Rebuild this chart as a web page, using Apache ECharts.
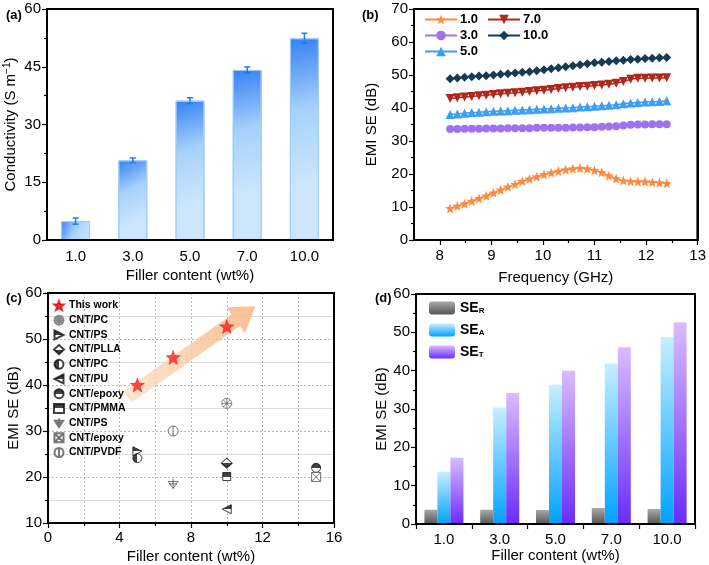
<!DOCTYPE html>
<html><head><meta charset="utf-8">
<script src="https://cdn.jsdelivr.net/npm/echarts@6/dist/echarts.min.js"></script>
<style>html,body{margin:0;padding:0;background:#fff}#c{width:709px;height:565px}</style>
</head><body><div id="c"></div>
<script>
// ---------- DATA ----------
const fillerCats = ['1.0', '3.0', '5.0', '7.0', '10.0'];
const conductivity = [4.9, 20.7, 36.2, 44.2, 52.4];
const conductivityErr = [0.8, 0.6, 0.75, 0.75, 1.3];

const freq = [8.20, 8.34, 8.48, 8.62, 8.76, 8.90, 9.04, 9.18, 9.32, 9.46, 9.60, 9.74, 9.88, 10.02, 10.16, 10.30,
  10.44, 10.58, 10.72, 10.86, 11.00, 11.14, 11.28, 11.42, 11.56, 11.70, 11.84, 11.98, 12.12, 12.26, 12.40];
const se10 = [9.6, 10.3, 11.0, 11.8, 12.6, 13.4, 14.3, 15.2, 16.1, 16.9, 17.8, 18.5, 19.2, 19.9, 20.4, 20.9,
  21.3, 21.6, 21.8, 21.6, 21.1, 20.5, 19.5, 18.6, 18.0, 17.8, 17.7, 17.7, 17.5, 17.4, 17.2];
const se30 = [33.6, 33.6, 33.7, 33.7, 33.7, 33.8, 33.8, 33.8, 33.9, 33.9, 33.9, 33.9, 34.0, 34.0, 34.0, 34.0,
  34.0, 34.1, 34.1, 34.2, 34.2, 34.3, 34.4, 34.5, 34.7, 34.9, 35.0, 35.0, 35.1, 35.1, 35.1];
const se50 = [38.0, 38.2, 38.4, 38.6, 38.7, 38.9, 39.0, 39.1, 39.2, 39.3, 39.4, 39.5, 39.6, 39.7, 39.8, 39.9,
  40.0, 40.1, 40.3, 40.4, 40.5, 40.7, 40.8, 41.0, 41.3, 41.5, 41.7, 41.8, 41.9, 42.0, 42.2];
const se70 = [42.9, 43.1, 43.3, 43.5, 43.7, 43.9, 44.1, 44.3, 44.5, 44.6, 44.8, 45.0, 45.2, 45.4, 45.6, 45.9,
  46.1, 46.3, 46.5, 46.6, 46.8, 47.0, 47.2, 47.5, 48.0, 48.7, 49.0, 49.0, 49.1, 49.1, 49.2];
const se100 = [48.9, 49.1, 49.3, 49.5, 49.7, 49.8, 50.0, 50.2, 50.4, 50.6, 50.8, 51.0, 51.3, 51.6, 51.9, 52.2,
  52.5, 52.8, 53.1, 53.4, 53.7, 53.9, 54.1, 54.3, 54.5, 54.7, 54.8, 55.0, 55.1, 55.2, 55.3];

const thisWork = [[5, 40], [7, 46], [10, 52.7]];
const cntPC1 = [[10, 36]];
const cntPS1 = [[5, 25.6]];
const cntPLLA = [[10, 23]];
const cntPC2 = [[5, 24.1]];
const cntPU = [[10, 13]];
const cntEpoxy1 = [[15, 22]];
const cntPMMA = [[10, 20.1]];
const cntPS2 = [[7, 18.5]];
const cntEpoxy2 = [[15, 20]];
const cntPVDF = [[7, 30]];
const trendArrow = [[4.45, 37.4, 11.6, 57.1]];

const seR = [3.7, 3.7, 3.65, 4.2, 3.9];
const seA = [13.6, 30.4, 36.3, 41.9, 48.8];
const seT = [17.3, 34.2, 40.0, 46.1, 52.6];

// ---------- STYLE HELPERS ----------
const FONT = 'Liberation Sans, Arial, sans-serif';
const G = echarts.graphic;
function starPath(inner) {
  let s = 'path://';
  for (let i = 0; i < 10; i++) {
    const r = i % 2 ? inner : 10;
    const a = -Math.PI / 2 + i * Math.PI / 5;
    s += (i ? 'L' : 'M') + (10 + r * Math.cos(a)).toFixed(2) + ',' + (10 + r * Math.sin(a)).toFixed(2);
  }
  return s + 'Z';
}
const STAR = starPath(4.2);
function half(dirX, firstBlack) {
  const b = '#111', w = '#fff';
  const c1 = firstBlack ? b : w, c2 = firstBlack ? w : b;
  return new G.LinearGradient(0, 0, dirX ? 1 : 0, dirX ? 0 : 1, [
    {offset: 0, color: c1}, {offset: 0.5, color: c1}, {offset: 0.5, color: c2}, {offset: 1, color: c2}]);
}
const CIRC = 'M10,0A10,10,0,1,1,10,20A10,10,0,1,1,10,0Z';
const TRI_R = 'path://M0,0L20,10L0,20Z';
const TRI_L = 'path://M20,0L0,10L20,20Z';

const axisLineS = {show: true, onZero: false, lineStyle: {color: '#000', width: 1.5}};
const labelS = {color: '#000', fontSize: 15, fontFamily: FONT, fontWeight: 'normal'};
const nameS = {color: '#000', fontSize: 15, fontFamily: FONT, fontWeight: 'normal'};
const tickS = {show: true, length: 5, lineStyle: {color: '#000', width: 1.2}};
const minorS = {show: true, splitNumber: 2, length: 3, lineStyle: {color: '#000', width: 1.2}};

function gridBox(left, top, width, height) {
  return {left, top, width, height, show: true, borderColor: '#000', borderWidth: 1.5, backgroundColor: 'rgba(0,0,0,0)'};
}
function frameX(gi) {
  return {gridIndex: gi, type: 'value', position: 'top', min: 0, max: 1, axisLine: axisLineS,
    axisTick: {show: false}, axisLabel: {show: false}, splitLine: {show: false}};
}
function frameY(gi) {
  return {gridIndex: gi, type: 'value', position: 'right', min: 0, max: 1, axisLine: axisLineS,
    axisTick: {show: false}, axisLabel: {show: false}, splitLine: {show: false}};
}
// plot-area frame drawn from the coordinate system's own rectangle
function frameSeries(xi, yi, pt) {
  return {type: 'custom', xAxisIndex: xi, yAxisIndex: yi, z: 10, silent: true, data: [pt],
    renderItem: function (params) {
      const r = params.coordSys;
      return {type: 'rect', shape: {x: r.x, y: r.y, width: r.width, height: r.height},
        style: {fill: 'none', stroke: '#000', lineWidth: 2}};
    }};
}
const boldTitle = {fontSize: 13, fontWeight: 'bold', color: '#000'};

const option = {
  animation: false,
  textStyle: {fontFamily: FONT},
  title: [
    {text: '(a)', left: 1, top: 4, textStyle: boldTitle},
    {text: '(b)', left: 357, top: 4, textStyle: boldTitle},
    {text: '(c)', left: 1, top: 287, textStyle: boldTitle},
    {text: '(d)', left: 370, top: 287, textStyle: boldTitle}
  ],
  grid: [
    gridBox(47, 9, 286, 231),
    gridBox(414, 9, 288, 231),
    gridBox(48, 293, 286, 231),
    gridBox(416, 294, 279, 230)
  ],
  xAxis: [
    {gridIndex: 0, type: 'category', position: 'bottom', data: fillerCats, axisLine: axisLineS, axisTick: {show: false},
      axisLabel: Object.assign({margin: 9}, labelS), name: 'Filler content (wt%)', nameLocation: 'middle',
      nameGap: 28, nameTextStyle: nameS},
    {gridIndex: 1, type: 'value', position: 'bottom', min: 7.5, max: 13, interval: 0.5, axisLine: axisLineS,
      axisTick: Object.assign({customValues: [8, 9, 10, 11, 12, 13]}, tickS),
      axisLabel: Object.assign({margin: 8, customValues: [8, 9, 10, 11, 12, 13]}, labelS),
      splitLine: {show: false}, name: 'Frequency (GHz)', nameLocation: 'middle', nameGap: 30, nameTextStyle: nameS},
    {gridIndex: 1, type: 'value', position: 'bottom', min: 7.5, max: 13, interval: 0.5, axisLine: {show: false, onZero: false},
      axisTick: {show: true, length: 3, customValues: [8.5, 9.5, 10.5, 11.5, 12.5], lineStyle: {color: '#000', width: 1.2}},
      axisLabel: {show: false}, splitLine: {show: false}},
    {gridIndex: 2, type: 'value', position: 'bottom', min: 0, max: 16, interval: 4, axisLine: axisLineS, axisTick: tickS,
      minorTick: minorS, axisLabel: Object.assign({margin: 7}, labelS),
      splitLine: {show: true, lineStyle: {color: '#b8b8b8', type: [2, 2], width: 1}},
      minorSplitLine: {show: true, lineStyle: {color: '#b8b8b8', type: [2, 2], width: 1}},
      name: 'Filler content (wt%)', nameLocation: 'middle', nameGap: 26, nameTextStyle: nameS},
    {gridIndex: 3, type: 'category', position: 'bottom', data: fillerCats, axisLine: axisLineS, axisTick: tickS,
      axisLabel: Object.assign({margin: 8}, labelS), name: 'Filler content (wt%)', nameLocation: 'middle',
      nameGap: 24, nameTextStyle: nameS},
    frameX(0), frameX(1), frameX(2), frameX(3)
  ],
  yAxis: [
    {gridIndex: 0, type: 'value', position: 'left', min: 0, max: 60, interval: 15, axisLine: axisLineS, axisTick: tickS,
      minorTick: minorS, axisLabel: Object.assign({margin: 6}, labelS), splitLine: {show: false},
      name: 'Conductivity (S m{sup|−1})', nameLocation: 'middle', nameGap: 27,
      nameTextStyle: Object.assign({rich: {sup: {fontSize: 10, verticalAlign: 'top', padding: [0, 0, 8, 0], color: '#000'}}}, nameS)},
    {gridIndex: 1, type: 'value', position: 'left', min: 0, max: 70, interval: 10, axisLine: axisLineS, axisTick: tickS,
      minorTick: minorS, axisLabel: Object.assign({margin: 6}, labelS), splitLine: {show: false},
      name: 'EMI SE (dB)', nameLocation: 'middle', nameGap: 35, nameTextStyle: nameS},
    {gridIndex: 2, type: 'value', position: 'left', min: 10, max: 60, interval: 10, axisLine: axisLineS, axisTick: tickS,
      minorTick: minorS, axisLabel: Object.assign({margin: 6}, labelS),
      splitLine: {show: true, lineStyle: {color: '#b8b8b8', type: [2, 2], width: 1}},
      minorSplitLine: {show: true, lineStyle: {color: '#dcdcdc', width: 1}},
      name: 'EMI SE (dB)', nameLocation: 'middle', nameGap: 26, nameTextStyle: nameS},
    {gridIndex: 3, type: 'value', position: 'left', min: 0, max: 60, interval: 10, axisLine: axisLineS, axisTick: tickS,
      minorTick: minorS, axisLabel: Object.assign({margin: 6}, labelS), splitLine: {show: false},
      name: 'EMI SE (dB)', nameLocation: 'middle', nameGap: 26, nameTextStyle: nameS},
    frameY(0), frameY(1), frameY(2), frameY(3)
  ],
  legend: [
    {data: ['1.0', '3.0', '5.0'], orient: 'vertical', left: 424, top: 13, padding: 0, itemWidth: 32, itemHeight: 12, itemGap: 3,
      textStyle: {fontSize: 13, fontWeight: 'bold', color: '#000', lineHeight: 13, padding: [0, 0, 0, -2]}},
    {data: ['7.0', '10.0'], orient: 'vertical', left: 487, top: 13, padding: 0, itemWidth: 32, itemHeight: 12, itemGap: 3,
      textStyle: {fontSize: 13, fontWeight: 'bold', color: '#000', lineHeight: 13, padding: [0, 0, 0, -2]}},
    {data: ['This work', 'CNT/PC', 'CNT/PS', 'CNT/PLLA', 'CNT/PC ', 'CNT/PU', 'CNT/epoxy', 'CNT/PMMA', 'CNT/PS ', 'CNT/epoxy ', 'CNT/PVDF'],
      orient: 'vertical', left: 53, top: 300, padding: 0, itemWidth: 10, itemHeight: 9, itemGap: 3.7,
      textStyle: {fontSize: 10.5, fontWeight: 'bold', color: '#000', lineHeight: 11}},
    {data: ['SE_R', 'SE_A', 'SE_T'], orient: 'vertical', left: 429, top: 301, padding: 0, itemWidth: 26, itemHeight: 13, itemGap: 8,
      formatter: function (n) { return '{m|SE}{s|' + n.slice(3) + '}'; },
      textStyle: {color: '#000', rich: {m: {fontSize: 14, fontWeight: 'bold', color: '#000'}, s: {fontSize: 8, fontWeight: 'bold', color: '#000', verticalAlign: 'bottom', padding: [6, 0, 0, 0]}}}}
  ],
  series: [
    frameSeries(0, 0, [0, 10]), frameSeries(1, 1, [10, 10]), frameSeries(3, 2, [8, 30]), frameSeries(4, 3, [0, 10]),
    // (a)
    {type: 'bar', xAxisIndex: 0, yAxisIndex: 0, data: conductivity, barWidth: 29,
      itemStyle: {borderColor: '#9dcdf6', borderWidth: 1,
        color: new G.LinearGradient(0, 0, 1, 0.7, [{offset: 0, color: '#3580f3'}, {offset: 0.5, color: '#a6d1fb'}, {offset: 1, color: '#cbe6fe'}])}},
    {type: 'custom', xAxisIndex: 0, yAxisIndex: 0, z: 5,
      data: conductivity.map((v, i) => [i, v - conductivityErr[i], v + conductivityErr[i]]),
      renderItem: function (params, api) {
        const lo = api.coord([api.value(0), api.value(1)]);
        const hi = api.coord([api.value(0), api.value(2)]);
        const st = {stroke: '#1a7fe8', lineWidth: 1.5};
        return {type: 'group', children: [
          {type: 'line', shape: {x1: lo[0], y1: lo[1], x2: hi[0], y2: hi[1]}, style: st},
          {type: 'line', shape: {x1: lo[0] - 3, y1: lo[1], x2: lo[0] + 3, y2: lo[1]}, style: st},
          {type: 'line', shape: {x1: hi[0] - 3, y1: hi[1], x2: hi[0] + 3, y2: hi[1]}, style: st}]};
      }},
    // (b)
    {name: '1.0', type: 'line', xAxisIndex: 1, yAxisIndex: 1, data: freq.map((f, i) => [f, se10[i]]),
      symbol: STAR, symbolSize: 10, color: '#ff8a3d', lineStyle: {width: 1.5}},
    {name: '3.0', type: 'line', xAxisIndex: 1, yAxisIndex: 1, data: freq.map((f, i) => [f, se30[i]]),
      symbol: 'circle', symbolSize: 8, color: '#a070ee', lineStyle: {width: 1.5}},
    {name: '5.0', type: 'line', xAxisIndex: 1, yAxisIndex: 1, data: freq.map((f, i) => [f, se50[i]]),
      symbol: 'triangle', symbolSize: 9, color: '#3d9ef5', lineStyle: {width: 1.5}},
    {name: '7.0', type: 'line', xAxisIndex: 1, yAxisIndex: 1, data: freq.map((f, i) => [f, se70[i]]),
      symbol: 'triangle', symbolRotate: 180, symbolSize: 9, color: '#b0281b', lineStyle: {width: 1.5}},
    {name: '10.0', type: 'line', xAxisIndex: 1, yAxisIndex: 1, data: freq.map((f, i) => [f, se100[i]]),
      symbol: 'diamond', symbolSize: 9, color: '#173a52', lineStyle: {width: 1.5}},
    // (c)
    {type: 'custom', xAxisIndex: 3, yAxisIndex: 2, z: 1, data: trendArrow,
      renderItem: function (params, api) {
        const p0 = api.coord([api.value(0), api.value(1)]);
        const p1 = api.coord([api.value(2), api.value(3)]);
        const dx = p1[0] - p0[0], dy = p1[1] - p0[1], L = Math.hypot(dx, dy);
        const ux = dx / L, uy = dy / L, nx = -uy, ny = ux;
        const sw = 7, hw = 16, hl = 24;
        const nk = [p1[0] - ux * hl, p1[1] - uy * hl];
        const pts = [
          [p0[0] + nx * sw, p0[1] + ny * sw], [nk[0] + nx * sw, nk[1] + ny * sw], [nk[0] + nx * hw, nk[1] + ny * hw],
          [p1[0], p1[1]], [nk[0] - nx * hw, nk[1] - ny * hw], [nk[0] - nx * sw, nk[1] - ny * sw], [p0[0] - nx * sw, p0[1] - ny * sw]];
        return {type: 'polygon', shape: {points: pts}, style: {
          fill: new G.LinearGradient(0, 1, 1, 0, [{offset: 0, color: 'rgba(252,225,200,0.8)'}, {offset: 1, color: 'rgba(248,180,128,0.85)'}])}};
      }},
    {name: 'This work', type: 'scatter', xAxisIndex: 3, yAxisIndex: 2, data: thisWork, symbol: STAR, symbolSize: 14, z: 4,
      itemStyle: {color: '#ff1f1f', borderColor: '#e00000', borderWidth: 0.5}},
    {name: 'CNT/PC', type: 'scatter', xAxisIndex: 3, yAxisIndex: 2, data: cntPC1, symbolSize: 10,
      symbol: 'path://' + CIRC + 'M3,3L17,17M17,3L3,17M10,0L10,20M0,10L20,10',
      itemStyle: {color: '#fff', borderColor: '#666', borderWidth: 1}},
    {name: 'CNT/PS', type: 'scatter', xAxisIndex: 3, yAxisIndex: 2, data: cntPS1, symbol: TRI_R, symbolSize: 9,
      itemStyle: {color: half(false, true), borderColor: '#111', borderWidth: 1}},
    {name: 'CNT/PLLA', type: 'scatter', xAxisIndex: 3, yAxisIndex: 2, data: cntPLLA, symbol: 'diamond', symbolSize: [11, 10],
      itemStyle: {color: half(false, false), borderColor: '#111', borderWidth: 1}},
    {name: 'CNT/PC ', type: 'scatter', xAxisIndex: 3, yAxisIndex: 2, data: cntPC2, symbol: 'circle', symbolSize: 9,
      itemStyle: {color: half(true, true), borderColor: '#111', borderWidth: 1}},
    {name: 'CNT/PU', type: 'scatter', xAxisIndex: 3, yAxisIndex: 2, data: cntPU, symbol: TRI_L, symbolSize: 9,
      itemStyle: {color: half(false, true), borderColor: '#111', borderWidth: 1}},
    {name: 'CNT/epoxy', type: 'scatter', xAxisIndex: 3, yAxisIndex: 2, data: cntEpoxy1, symbol: 'circle', symbolSize: 9,
      itemStyle: {color: half(false, true), borderColor: '#111', borderWidth: 1}},
    {name: 'CNT/PMMA', type: 'scatter', xAxisIndex: 3, yAxisIndex: 2, data: cntPMMA, symbol: 'rect', symbolSize: 8,
      itemStyle: {color: half(false, true), borderColor: '#111', borderWidth: 1}},
    {name: 'CNT/PS ', type: 'scatter', xAxisIndex: 3, yAxisIndex: 2, data: cntPS2, symbolSize: 10,
      symbol: 'path://M1,5L19,5L10,19ZM10,0L10,20M3,10L17,10',
      itemStyle: {color: '#fff', borderColor: '#555', borderWidth: 1}},
    {name: 'CNT/epoxy ', type: 'scatter', xAxisIndex: 3, yAxisIndex: 2, data: cntEpoxy2, symbolSize: 9,
      symbol: 'path://M1,1L19,1L19,19L1,19ZM1,1L19,19M19,1L1,19',
      itemStyle: {color: '#fff', borderColor: '#555', borderWidth: 1}},
    {name: 'CNT/PVDF', type: 'scatter', xAxisIndex: 3, yAxisIndex: 2, data: cntPVDF, symbolSize: 10,
      symbol: 'path://' + CIRC + 'M10,0L10,20',
      itemStyle: {color: '#fff', borderColor: '#555', borderWidth: 1}},
    // (d)
    {name: 'SE_R', type: 'bar', xAxisIndex: 4, yAxisIndex: 3, data: seR, barWidth: 13, barGap: '0%',
      itemStyle: {color: new G.LinearGradient(0, 0, 0, 1, [{offset: 0, color: '#a9a9a9'}, {offset: 1, color: '#555'}])}},
    {name: 'SE_A', type: 'bar', xAxisIndex: 4, yAxisIndex: 3, data: seA, barWidth: 13, barGap: '0%',
      itemStyle: {color: new G.LinearGradient(0, 0, 0, 1, [{offset: 0, color: '#c6efff'}, {offset: 1, color: '#00a2ff'}])}},
    {name: 'SE_T', type: 'bar', xAxisIndex: 4, yAxisIndex: 3, data: seT, barWidth: 13, barGap: '0%',
      itemStyle: {color: new G.LinearGradient(0, 0, 0, 1, [{offset: 0, color: '#d9bcff'}, {offset: 1, color: '#6a2cf8'}])}}
  ]
};
const chart = echarts.init(document.getElementById('c'), null, {renderer: 'canvas'});
chart.setOption(option);
// extra safety: outline each plot area using the grid rectangles computed by ECharts
try {
  const rects = [0, 1, 2, 3].map(function (i) {
    return chart.getModel().getComponent('grid', i).coordinateSystem.getRect();
  });
  chart.setOption({graphic: rects.map(function (r) {
    return {type: 'rect', silent: true, z: 100,
      shape: {x: r.x, y: r.y, width: r.width, height: r.height},
      style: {fill: 'none', stroke: '#000', lineWidth: 2}};
  })});
} catch (e) { /* ignore */ }
</script>
</body></html>
